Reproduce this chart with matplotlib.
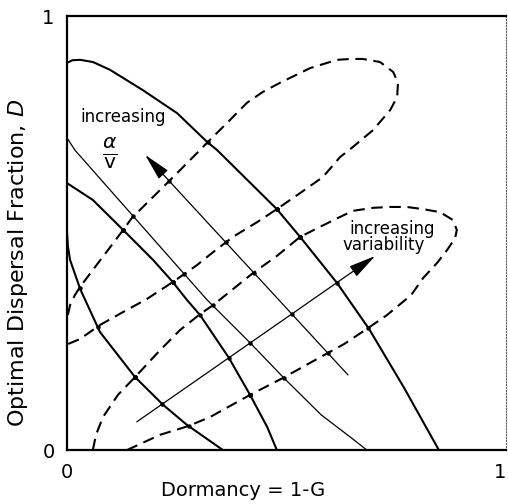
import numpy as np
import matplotlib
matplotlib.use("Agg")
import matplotlib.pyplot as plt

# ---- data (axes units 0..1) ----
# solid contour curves ("increasing alpha/v" family), x = dormancy, y = D
curve_a_x = [0.0, 0.002, 0.007, 0.030, 0.075, 0.155, 0.219, 0.273, 0.355]
curve_a_y = [0.502, 0.470, 0.438, 0.371, 0.272, 0.168, 0.104, 0.058, 0.0]

curve_b_x = [0.0, 0.059, 0.128, 0.196, 0.241, 0.273, 0.303, 0.369, 0.417, 0.456, 0.478]
curve_b_y = [0.615, 0.576, 0.507, 0.438, 0.387, 0.346, 0.311, 0.212, 0.127, 0.053, 0.0]

curve_c_x = [0.0, 0.018, 0.319, 0.417, 0.494, 0.579, 0.645, 0.683]
curve_c_y = [0.719, 0.691, 0.346, 0.247, 0.166, 0.081, 0.030, 0.0]

curve_d_x = [0.0, 0.012, 0.030, 0.059, 0.098, 0.173, 0.251, 0.319, 0.342, 0.478, 0.531,
             0.615, 0.688, 0.768, 0.847]
curve_d_y = [0.892, 0.898, 0.899, 0.894, 0.876, 0.829, 0.776, 0.710, 0.691, 0.555, 0.491,
             0.385, 0.279, 0.143, 0.0]

# dashed curves ("increasing variability" family)
big_loop_x = [0.002, 0.007, 0.018, 0.030, 0.059, 0.128, 0.148, 0.212, 0.235, 0.296,
              0.321, 0.364, 0.410, 0.446, 0.485, 0.554, 0.615, 0.645, 0.674, 0.713,
              0.743, 0.754, 0.752, 0.736, 0.697, 0.651, 0.622, 0.583, 0.531, 0.478,
              0.433, 0.378, 0.333, 0.296, 0.241, 0.182, 0.128, 0.075, 0.030, 0.002]
big_loop_y = [0.311, 0.334, 0.357, 0.376, 0.415, 0.507, 0.535, 0.599, 0.622, 0.684,
              0.710, 0.753, 0.800, 0.825, 0.846, 0.880, 0.899, 0.901, 0.901, 0.894,
              0.871, 0.846, 0.813, 0.783, 0.737, 0.698, 0.675, 0.629, 0.592, 0.555,
              0.525, 0.491, 0.456, 0.426, 0.387, 0.348, 0.318, 0.288, 0.256, 0.244]

small_loop_x = [0.059, 0.066, 0.082, 0.116, 0.155, 0.212, 0.257, 0.303, 0.333, 0.424,
                0.478, 0.531, 0.576, 0.622, 0.651, 0.697, 0.736, 0.774, 0.811, 0.850,
                0.879, 0.888, 0.884, 0.866, 0.843, 0.811, 0.784, 0.729, 0.683, 0.631,
                0.595, 0.492, 0.417, 0.326, 0.276, 0.212, 0.137]
small_loop_y = [0.0, 0.035, 0.076, 0.127, 0.168, 0.230, 0.276, 0.313, 0.334, 0.408,
                0.447, 0.491, 0.514, 0.537, 0.551, 0.558, 0.560, 0.560, 0.555, 0.548,
                0.530, 0.507, 0.488, 0.461, 0.431, 0.396, 0.357, 0.311, 0.279, 0.244,
                0.224, 0.166, 0.127, 0.076, 0.055, 0.035, 0.0]

# arrows: (tail_x, tail_y, tip_x, tip_y)
arrow_alpha = [0.640, 0.173, 0.178, 0.680]
arrow_var = [0.159, 0.065, 0.702, 0.447]

tick_vals = [0, 1]
tick_labels = ["0", "1"]

# ---- figure ----
fig = plt.figure(figsize=(5.08, 5.04), dpi=100)
ax = fig.add_axes([67 / 508, 54 / 504, 439 / 508, 434 / 504])
ax.set_xlim(0, 1)
ax.set_ylim(0, 1)

solid_lw = 1.5
for xs, ys, lw in [(curve_a_x, curve_a_y, solid_lw), (curve_b_x, curve_b_y, solid_lw),
                   (curve_c_x, curve_c_y, 0.9), (curve_d_x, curve_d_y, solid_lw)]:
    ax.plot(xs, ys, color="black", lw=lw, solid_joinstyle="round")

for xs, ys in [(big_loop_x, big_loop_y), (small_loop_x, small_loop_y)]:
    ax.plot(xs, ys, color="black", lw=1.5, linestyle=(0, (5.5, 3.2)),
            dash_capstyle="butt")

for tx, ty, hx, hy in [arrow_alpha, arrow_var]:
    ax.annotate("", xy=(hx, hy), xytext=(tx, ty),
                arrowprops=dict(arrowstyle="-|>,head_length=1.4,head_width=0.32",
                                mutation_scale=12, lw=0.9, color="black",
                                shrinkA=0, shrinkB=0))

# intersection dots computed from the curves
def as_arr(xs, ys):
    return np.column_stack([xs, ys]).astype(float)

def crossings(P, Q):
    out = []
    for i in range(len(P) - 1):
        p1, p2 = P[i], P[i + 1]
        r = p2 - p1
        for j in range(len(Q) - 1):
            q1, q2 = Q[j], Q[j + 1]
            s = q2 - q1
            d = r[0] * s[1] - r[1] * s[0]
            if abs(d) < 1e-12:
                continue
            w = q1 - p1
            t = (w[0] * s[1] - w[1] * s[0]) / d
            u = (w[0] * r[1] - w[1] * r[0]) / d
            if 0 <= t <= 1 and 0 <= u <= 1:
                out.append(p1 + t * r)
    return out

solids = [as_arr(curve_a_x, curve_a_y), as_arr(curve_b_x, curve_b_y),
          as_arr(curve_c_x, curve_c_y), as_arr(curve_d_x, curve_d_y)]
dashed = [as_arr(big_loop_x, big_loop_y), as_arr(small_loop_x, small_loop_y)]
arrows = [np.array([[a[0], a[1]], [a[2], a[3]]]) for a in (arrow_alpha, arrow_var)]

pts = []
for D in dashed:
    for S in solids + arrows:
        pts += crossings(D, S)
for A in arrows:
    for S in solids:
        pts += crossings(A, S)
pts += crossings(arrows[0], arrows[1])
pts = [p for p in pts if p[0] > 0.02 and p[1] > 0.02]
if pts:
    pts = np.array(pts)
    ax.plot(pts[:, 0], pts[:, 1], "o", color="black", ms=3.2, mew=0)

# annotations
ax.text(0.128, 0.767, "increasing", ha="center", va="center", fontsize=12)
ax.text(0.098, 0.683, r"$\frac{\alpha}{\mathrm{v}}$", ha="center", va="center",
        fontsize=21)
ax.text(0.740, 0.509, "increasing", ha="center", va="center", fontsize=12)
ax.text(0.722, 0.472, "variability", ha="center", va="center", fontsize=12)

# axes styling
for side in ["left", "bottom", "top"]:
    ax.spines[side].set_linewidth(1.6)
ax.spines["right"].set_linewidth(0.8)
ax.spines["right"].set_linestyle(":")
ax.spines["right"].set_color("0.35")

ax.set_xticks(tick_vals)
ax.set_xticklabels(tick_labels, fontsize=14)
ax.set_yticks(tick_vals)
ax.set_yticklabels(tick_labels, fontsize=14)
ax.tick_params(axis="both", length=0)
ax.tick_params(axis="x", pad=9)
ax.tick_params(axis="y", pad=9)
ax.get_xticklabels()[-1].set_horizontalalignment("right")

fig.text(243 / 508, 1 - 490 / 504, "Dormancy = 1-G", ha="center", va="center",
         fontsize=14)
fig.text(18 / 508, 1 - 263 / 504, r"Optimal Dispersal Fraction, $D$", ha="center",
         va="center", rotation=90, fontsize=16)

fig.savefig("out.png", dpi=100)
